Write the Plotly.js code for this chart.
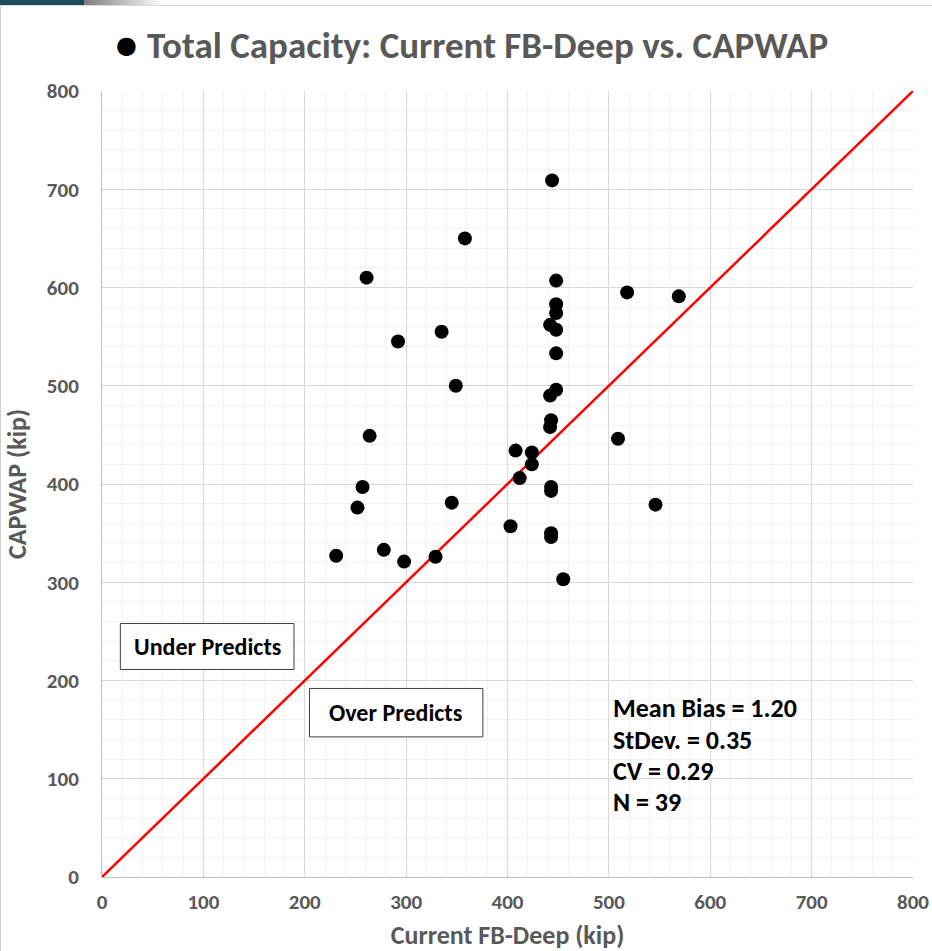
<!DOCTYPE html>
<html>
<head>
<meta charset="utf-8">
<script src="https://cdn.plot.ly/plotly-3.0.1.min.js"></script>
<style>
  html, body { margin: 0; padding: 0; background: #fff; }
  #wrap { position: relative; width: 932px; height: 951px; overflow: hidden; }
  #chart { position: absolute; left: 0; top: 0; width: 932px; height: 951px; }
  .deco { position: absolute; pointer-events: none; }
</style>
</head>
<body>
<div id="wrap">
  <div id="chart"></div>
  <div class="deco" style="left:0;top:0;width:84px;height:5px;background:#1d4b5b;"></div>
  <div class="deco" style="left:84px;top:0;width:80px;height:5px;background:linear-gradient(to right,#7f7f7f,#ffffff);"></div>
  <div class="deco" style="left:84px;top:5px;width:848px;height:1px;background:#d9d9d9;"></div>
  <div class="deco" style="left:0;top:5px;width:164px;height:1px;background:#d9d9d9;"></div>
  <div class="deco" style="left:0;top:6px;width:1px;height:945px;background:#d0d0d0;"></div>
</div>
<script>
// Data
const fbDeep = [444, 358, 261, 448, 518, 569, 448, 448, 442, 448, 335, 292, 448, 349, 448, 442,
                264, 443, 442, 509, 408, 424, 424, 412, 257, 443, 443, 252, 345, 546, 403, 443,
                443, 231, 278, 298, 329, 455];
const capwap = [709, 650, 610, 607, 595, 591, 583, 574, 562, 557, 555, 545, 533, 500, 496, 490,
                449, 465, 458, 446, 434, 432, 420, 406, 397, 397, 393, 376, 381, 379, 357, 350,
                346, 327, 333, 321, 326, 303];
const lineX = [0, 800];
const lineY = [0, 800];
const tickVals = [0, 100, 200, 300, 400, 500, 600, 700, 800];
const statLines = ['Mean Bias = 1.20', 'StDev. = 0.35', 'CV = 0.29', 'N = 39'];
const boxLabels = ['Under Predicts', 'Over Predicts'];

const FONT = 'Carlito, "Liberation Sans Narrow", "Open Sans", sans-serif';
const GRAY = '#595959';

const traces = [
  {
    x: lineX, y: lineY, type: 'scatter', mode: 'lines',
    line: { color: '#ff0000', width: 2.5 }, hoverinfo: 'skip', showlegend: false
  },
  {
    x: fbDeep, y: capwap, type: 'scatter', mode: 'markers',
    marker: { color: '#000000', size: 14, line: { width: 0 } }, showlegend: false
  }
];

const axisCommon = {
  range: [0, 800], tickvals: tickVals, ticktext: tickVals.map(String),
  showgrid: true, gridcolor: '#d9d9d9', gridwidth: 1,
  minor: { dtick: 20, showgrid: true, gridcolor: '#f2f2f2', gridwidth: 1 },
  zeroline: false, showline: true, linecolor: '#bfbfbf', linewidth: 1,
  ticks: '', fixedrange: true,
  tickfont: { family: FONT, size: 21, color: GRAY, weight: 'bold' },
  automargin: false
};

const statY = [172.5, 139.2, 108, 76.4];
const annotations = statLines.map((t, i) => ({
  xref: 'x', yref: 'y', x: 502, y: statY[i], xanchor: 'left', yanchor: 'middle',
  text: '<b>' + t + '</b>', showarrow: false,
  font: { family: FONT, size: 26, color: '#000000' }
}));
annotations.push({
  xref: 'x', yref: 'y', x: 104, y: 234.6, xanchor: 'center', yanchor: 'middle',
  text: '<b>' + boxLabels[0] + '</b>', showarrow: false,
  font: { family: FONT, size: 24, color: '#000000' }
});
annotations.push({
  xref: 'x', yref: 'y', x: 290, y: 167.2, xanchor: 'center', yanchor: 'middle',
  text: '<b>' + boxLabels[1] + '</b>', showarrow: false,
  font: { family: FONT, size: 24, color: '#000000' }
});
// title bullet
annotations.push({
  xref: 'paper', yref: 'paper', x: (126.5 - 102) / 811, y: (877 - 45) / 786,
  xanchor: 'center', yanchor: 'middle', text: '●', showarrow: false,
  font: { family: '"DejaVu Sans", sans-serif', size: 24, color: '#000000' }
});

const shapes = [
  { type: 'rect', xref: 'x', yref: 'y', x0: 18.1, x1: 189.4, y0: 211.2, y1: 258,
    fillcolor: '#ffffff', line: { color: '#404040', width: 1 }, layer: 'above' },
  { type: 'rect', xref: 'x', yref: 'y', x0: 204.7, x1: 375.7, y0: 142.6, y1: 191.9,
    fillcolor: '#ffffff', line: { color: '#404040', width: 1 }, layer: 'above' }
];

const layout = {
  width: 932, height: 951,
  margin: { l: 102, r: 19, t: 91, b: 74, pad: 0 },
  paper_bgcolor: '#ffffff', plot_bgcolor: '#ffffff',
  title: {
    text: 'Total Capacity: Current FB-Deep vs. CAPWAP',
    xref: 'container', yref: 'container', x: 147 / 932, y: 1 - 45 / 951,
    xanchor: 'left', yanchor: 'middle',
    font: { family: FONT, size: 37, color: GRAY, weight: 'bold' }
  },
  xaxis: Object.assign({}, axisCommon, {
    ticklabelstandoff: 6,
    title: { text: 'Current FB-Deep (kip)', standoff: 20,
             font: { family: FONT, size: 26, color: GRAY, weight: 'bold' } }
  }),
  yaxis: Object.assign({}, axisCommon, {
    ticklabelstandoff: 18,
    title: { text: 'CAPWAP (kip)', standoff: 12,
             font: { family: FONT, size: 26, color: GRAY, weight: 'bold' } }
  }),
  shapes: shapes,
  annotations: annotations,
  showlegend: false,
  hovermode: false
};

Plotly.newPlot('chart', traces, layout, { staticPlot: true, displayModeBar: false });
</script>
</body>
</html>
